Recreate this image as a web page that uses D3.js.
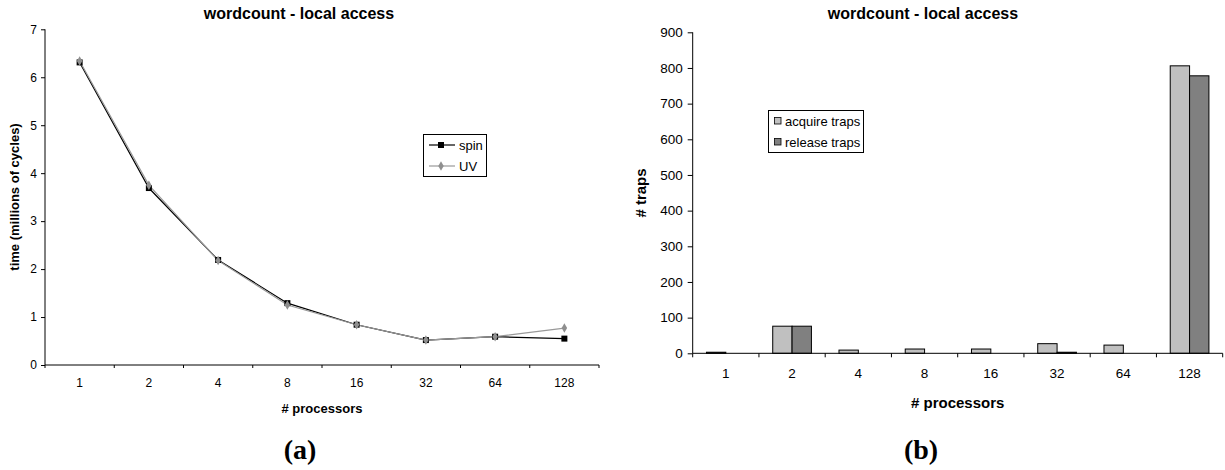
<!DOCTYPE html>
<html><head><meta charset="utf-8">
<script src="https://cdn.jsdelivr.net/npm/d3@7"></script>
<style>
body{margin:0;background:#fff;}
text{font-family:"Liberation Sans",Arial,sans-serif;}
</style></head>
<body>
<svg id="c" width="1225" height="470"></svg>
<script>
const processors = ["1","2","4","8","16","32","64","128"];
const spinTime = [6.31, 3.69, 2.19, 1.29, 0.84, 0.52, 0.59, 0.55];
const uvTime   = [6.34, 3.75, 2.18, 1.25, 0.84, 0.52, 0.59, 0.77];
const acquireTraps = [3, 76, 9, 12, 12, 27, 23, 806];
const releaseTraps = [0, 76, 0, 0, 0, 3, 0, 778];
const timeTicks = [0,1,2,3,4,5,6,7];
const trapTicks = [0,100,200,300,400,500,600,700,800,900];
const chartTitle = "wordcount - local access";

const svg = d3.select("#c");

// ---------- Chart (a) ----------
{
  const g = svg.append("g");
  const x = d3.scaleBand().domain(processors).range([45, 599]).padding(0);
  const y = d3.scaleLinear().domain([0, 7]).range([365, 29.3]);

  const ya = d3.axisLeft(y).tickValues(timeTicks).tickSize(4).tickPadding(4).tickFormat(d3.format("d"));
  const yg = g.append("g").attr("transform", "translate(45,0)").call(ya);
  yg.select(".domain").attr("stroke", "#000").attr("d", `M0,${y(7)}V${y(0)}`);
  yg.selectAll("text").style("font-size", "12px").attr("fill", "#000");

  const xa = d3.axisBottom(x).tickSize(0).tickPadding(13);
  const xg = g.append("g").attr("transform", "translate(0,365)").call(xa);
  xg.select(".domain").attr("stroke", "#000").attr("d", `M45,0H599`);
  xg.selectAll("text").style("font-size", "12px").attr("fill", "#000");
  const bounds = processors.map(d => x(d)).concat([x.range()[1]]);
  xg.selectAll("line.bt").data(bounds).enter().append("line").attr("class","bt")
    .attr("x1", d => d).attr("x2", d => d).attr("y1", 0).attr("y2", 3).attr("stroke", "#000");

  const line = d3.line().x((d,i) => x(processors[i]) + x.bandwidth()/2).y(d => y(d));
  g.append("path").datum(spinTime).attr("d", line).attr("fill","none").attr("stroke","#000").attr("stroke-width",1.2);
  g.append("path").datum(uvTime).attr("d", line).attr("fill","none").attr("stroke","#999").attr("stroke-width",1.2);
  g.selectAll("rect.sp").data(spinTime).enter().append("rect").attr("class","sp")
    .attr("x", (d,i) => x(processors[i]) + x.bandwidth()/2 - 3).attr("y", d => y(d) - 3)
    .attr("width", 6).attr("height", 6).attr("fill", "#000");
  const diamond = d3.symbol().type(d3.symbolDiamond).size(26);
  g.selectAll("path.uv").data(uvTime).enter().append("path").attr("class","uv")
    .attr("d", diamond)
    .attr("transform", (d,i) => `translate(${x(processors[i]) + x.bandwidth()/2},${y(d)})`)
    .attr("fill", "#8f8f8f");

  g.append("text").attr("x", 299).attr("y", 19).attr("text-anchor","middle")
    .style("font-size","16px").style("font-weight","bold").text(chartTitle);
  g.append("text").attr("x", 322).attr("y", 413).attr("text-anchor","middle")
    .style("font-size","13px").style("font-weight","bold").text("# processors");
  g.append("text").attr("transform","translate(19,197) rotate(-90)").attr("text-anchor","middle")
    .style("font-size","13px").style("font-weight","bold").text("time (millions of cycles)");
  g.append("text").attr("x", 300).attr("y", 459).attr("text-anchor","middle")
    .style("font-family","'Liberation Serif','Times New Roman',serif")
    .style("font-size","28px").style("font-weight","bold").text("(a)");

  const lg = g.append("g");
  lg.append("rect").attr("x", 423.5).attr("y", 134.5).attr("width", 63).attr("height", 42)
    .attr("fill","#fff").attr("stroke","#000");
  const items = [{name:"spin", c:"#000", m:"sq"}, {name:"UV", c:"#999", m:"di"}];
  items.forEach((it, i) => {
    const cy = 145 + i*21;
    lg.append("line").attr("x1", 429).attr("x2", 455).attr("y1", cy).attr("y2", cy).attr("stroke", it.c).attr("stroke-width",1.2);
    if (it.m === "sq") lg.append("rect").attr("x", 438).attr("y", cy-3).attr("width",6).attr("height",6).attr("fill","#000");
    else lg.append("path").attr("d", diamond).attr("transform", `translate(441,${cy})`).attr("fill","#8f8f8f");
    lg.append("text").attr("x", 459).attr("y", cy + 4.5).style("font-size","13px").text(it.name);
  });
}

// ---------- Chart (b) ----------
{
  const g = svg.append("g");
  const x = d3.scaleBand().domain(processors).range([692.7, 1222.7]).padding(0);
  const y = d3.scaleLinear().domain([0, 900]).range([353.3, 32.3]);
  const bw = x.bandwidth() * 0.292;

  const ya = d3.axisLeft(y).tickValues(trapTicks).tickSize(5).tickPadding(5).tickFormat(d3.format("d"));
  const yg = g.append("g").attr("transform", "translate(692.7,0)").call(ya);
  yg.select(".domain").attr("stroke", "#000").attr("d", `M0,${y(900)}V${y(0)}`);
  yg.selectAll("text").style("font-size", "13.5px").attr("fill", "#000");

  const series = [{vals: acquireTraps, c:"#c0c0c0", off:-1}, {vals: releaseTraps, c:"#808080", off:0}];
  series.forEach(s => {
    g.selectAll(null).data(s.vals).enter().append("rect")
      .attr("x", (d,i) => x(processors[i]) + x.bandwidth()/2 + s.off*bw)
      .attr("y", d => y(d)).attr("width", bw).attr("height", d => y(0) - y(d))
      .attr("fill", s.c).attr("stroke", "#000").attr("stroke-width", 1);
  });

  const xa = d3.axisBottom(x).tickSize(0).tickPadding(15);
  const xg = g.append("g").attr("transform", "translate(0,353.3)").call(xa);
  xg.select(".domain").attr("stroke", "#000").attr("d", `M692.7,0H1222.7`);
  xg.selectAll("text").style("font-size", "13.5px").attr("fill", "#000");
  const bounds = processors.map(d => x(d)).concat([x.range()[1]]);
  xg.selectAll("line.bt").data(bounds).enter().append("line").attr("class","bt")
    .attr("x1", d => d).attr("x2", d => d).attr("y1", 0).attr("y2", 4).attr("stroke", "#000");

  g.append("text").attr("x", 923).attr("y", 19).attr("text-anchor","middle")
    .style("font-size","16px").style("font-weight","bold").text(chartTitle);
  g.append("text").attr("x", 957.7).attr("y", 407.5).attr("text-anchor","middle")
    .style("font-size","15px").style("font-weight","bold").text("# processors");
  g.append("text").attr("transform","translate(646,193) rotate(-90)").attr("text-anchor","middle")
    .style("font-size","15px").style("font-weight","bold").text("# traps");
  g.append("text").attr("x", 921).attr("y", 459).attr("text-anchor","middle")
    .style("font-family","'Liberation Serif','Times New Roman',serif")
    .style("font-size","28px").style("font-weight","bold").text("(b)");

  const lg = g.append("g");
  lg.append("rect").attr("x", 768.5).attr("y", 110.5).attr("width", 95).attr("height", 42)
    .attr("fill","#fff").attr("stroke","#000");
  [{name:"acquire traps", c:"#c0c0c0"}, {name:"release traps", c:"#808080"}].forEach((it, i) => {
    const cy = 121 + i*21;
    lg.append("rect").attr("x", 774.5).attr("y", cy - 3.5).attr("width", 6.5).attr("height", 6.5)
      .attr("fill", it.c).attr("stroke", "#000").attr("stroke-width", 0.8);
    lg.append("text").attr("x", 785).attr("y", cy + 4.5).style("font-size","13px").text(it.name);
  });
}
</script>
</body></html>
